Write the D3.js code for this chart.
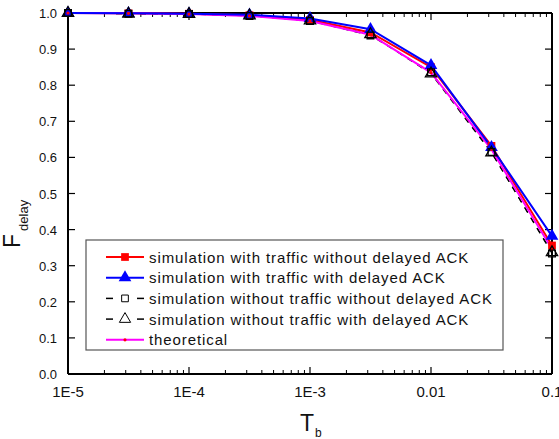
<!DOCTYPE html>
<html>
<head>
<meta charset="utf-8">
<script src="https://cdn.jsdelivr.net/npm/d3@7"></script>
<style>
body { margin: 0; background: #fff; }
svg text { font-family: "Liberation Sans", Arial, Helvetica, sans-serif; fill: #111; }
</style>
</head>
<body>
<script>
// data
var tb = [1e-5, 3.16e-5, 1e-4, 3.16e-4, 1e-3, 3.16e-3, 1e-2, 3.16e-2, 1e-1];
var simTrafficNoAck = [1.0, 0.999, 0.998, 0.994, 0.981, 0.946, 0.850, 0.632, 0.356];
var simTrafficAck = [1.0, 0.999, 0.998, 0.995, 0.985, 0.955, 0.855, 0.628, 0.382];
var simNoTrafficNoAck = [1.0, 0.998, 0.997, 0.992, 0.978, 0.938, 0.836, 0.615, 0.334];
var simNoTrafficAck = [1.0, 0.998, 0.997, 0.993, 0.979, 0.941, 0.832, 0.613, 0.337];
var theoretical = [1.0, 0.999, 0.997, 0.992, 0.978, 0.940, 0.835, 0.622, 0.346];
var xTicks = [1e-5, 1e-4, 1e-3, 1e-2, 1e-1];
var xTickLabels = ["1E-5", "1E-4", "1E-3", "0.01", "0.1"];
var yTicks = [0, 0.1, 0.2, 0.3, 0.4, 0.5, 0.6, 0.7, 0.8, 0.9, 1.0];

var width = 559, height = 439;
var margin = {left: 68, right: 7, top: 13, bottom: 65};

var svg = d3.select("body").append("svg")
    .attr("width", width)
    .attr("height", height);

var x = d3.scaleLog()
    .domain([1e-5, 0.1])
    .range([margin.left, width - margin.right]);
var y = d3.scaleLinear()
    .domain([0, 1])
    .range([height - margin.bottom, margin.top]);

// minor ticks for the log axis
var minor = [];
xTicks.slice(0, -1).forEach(function(d) {
  for (var k = 2; k <= 9; k++) minor.push(d * k);
});

function drawXAxis(pos, dir) {
  var g = svg.append("g").attr("class", "frame");
  g.append("line")
      .attr("x1", x.range()[0]).attr("x2", x.range()[1])
      .attr("y1", pos).attr("y2", pos)
      .attr("stroke", "#000").attr("stroke-width", 2);
  g.selectAll(".maj").data(xTicks).enter().append("line")
      .attr("x1", x).attr("x2", x)
      .attr("y1", pos).attr("y2", pos + dir * 7)
      .attr("stroke", "#000").attr("stroke-width", 1.2);
  g.selectAll(".min").data(minor).enter().append("line")
      .attr("x1", x).attr("x2", x)
      .attr("y1", pos).attr("y2", pos + dir * 4)
      .attr("stroke", "#000").attr("stroke-width", 1);
}

function drawYAxis(pos, dir) {
  var g = svg.append("g").attr("class", "frame");
  g.append("line")
      .attr("x1", pos).attr("x2", pos)
      .attr("y1", y.range()[0]).attr("y2", y.range()[1])
      .attr("stroke", "#000").attr("stroke-width", 2);
  g.selectAll(".maj").data(yTicks).enter().append("line")
      .attr("y1", y).attr("y2", y)
      .attr("x1", pos).attr("x2", pos + dir * 7)
      .attr("stroke", "#000").attr("stroke-width", 1.2);
}

drawXAxis(y(0), -1);
drawXAxis(y(1), 1);
drawYAxis(x(1e-5), 1);
drawYAxis(x(0.1), -1);

svg.selectAll(".xlab").data(xTicks).enter().append("text")
    .attr("x", x)
    .attr("y", y(0) + 23)
    .attr("text-anchor", "middle")
    .style("font-size", "15px")
    .text(function(d, i) { return xTickLabels[i]; });

svg.selectAll(".ylab").data(yTicks).enter().append("text")
    .attr("x", x(1e-5) - 11)
    .attr("y", function(d) { return y(d) + 5; })
    .attr("text-anchor", "end")
    .style("font-size", "13px")
    .text(function(d) { return d3.format(".1f")(d); });

// axis titles
var xt = svg.append("text")
    .attr("x", 300).attr("y", 431)
    .style("font-size", "23px")
    .text("T");
xt.append("tspan").attr("dy", 6).attr("dx", 1).style("font-size", "12px").text("b");

var yt = svg.append("text")
    .attr("transform", "translate(20,248) rotate(-90)")
    .style("font-size", "23px")
    .text("F");
yt.append("tspan").attr("dy", 8).attr("dx", 3).style("font-size", "13px").text("delay");

var series = [
  {name: "simulation with traffic without delayed ACK", values: simTrafficNoAck, color: "#ff0000", dash: null, marker: "square", fill: "#ff0000", size: 60},
  {name: "simulation with traffic with delayed ACK", values: simTrafficAck, color: "#0000ff", dash: null, marker: "triangle", fill: "#0000ff", size: 70},
  {name: "simulation without traffic without delayed ACK", values: simNoTrafficNoAck, color: "#000", dash: "6,6", marker: "square", fill: "none", size: 45},
  {name: "simulation without traffic with delayed ACK", values: simNoTrafficAck, color: "#000", dash: "6,6", marker: "triangle", fill: "none", size: 55},
  {name: "theoretical", values: theoretical, color: "#ff00ff", dash: null, marker: "dot", fill: "#ff0000", size: 8}
];

function symbolOf(s) {
  var t = s.marker == "square" ? d3.symbolSquare : (s.marker == "triangle" ? d3.symbolTriangle : d3.symbolCircle);
  return d3.symbol().type(t).size(s.size);
}

var line = d3.line()
    .x(function(d) { return x(d[0]); })
    .y(function(d) { return y(d[1]); });

var drawOrder = [2, 3, 0, 4, 1];
drawOrder.forEach(function(i) {
  var s = series[i];
  var pts = tb.map(function(t, j) { return [t, s.values[j]]; });
  svg.append("path")
      .datum(pts)
      .attr("d", line)
      .attr("fill", "none")
      .attr("stroke", s.color)
      .attr("stroke-width", s.dash ? 1.2 : 2)
      .attr("stroke-dasharray", s.dash);
});
[0, 1, 4, 2, 3].forEach(function(i) {
  var s = series[i];
  svg.selectAll(".m" + i).data(tb).enter().append("path")
      .attr("transform", function(t, j) { return "translate(" + x(t) + "," + y(s.values[j]) + ")"; })
      .attr("d", symbolOf(s))
      .attr("fill", s.fill)
      .attr("stroke", s.fill == "none" ? "#000" : "none")
      .attr("stroke-width", 1.3);
});

// legend
var lg = svg.append("g").attr("transform", "translate(86,240)");
lg.append("rect")
    .attr("width", 417).attr("height", 110)
    .attr("fill", "#fff")
    .attr("stroke", "#555").attr("stroke-width", 1.2);
series.forEach(function(s, i) {
  var row = lg.append("g").attr("transform", "translate(0," + (17 + i * 20.7) + ")");
  if (s.dash) {
    row.append("line").attr("x1", 20).attr("x2", 27).attr("stroke", "#000").attr("stroke-width", 1.5);
    row.append("line").attr("x1", 51).attr("x2", 58).attr("stroke", "#000").attr("stroke-width", 1.5);
  } else {
    row.append("line").attr("x1", 20).attr("x2", 58).attr("stroke", s.color).attr("stroke-width", 2);
  }
  row.append("path")
      .attr("transform", "translate(39,0)")
      .attr("d", symbolOf(s))
      .attr("fill", s.fill)
      .attr("stroke", s.fill == "none" ? "#000" : "none")
      .attr("stroke-width", 1);
  row.append("text")
      .attr("x", 63).attr("y", 5.5)
      .style("font-size", "15px")
      .style("letter-spacing", "0.9px")
      .text(s.name);
});
</script>
</body>
</html>
